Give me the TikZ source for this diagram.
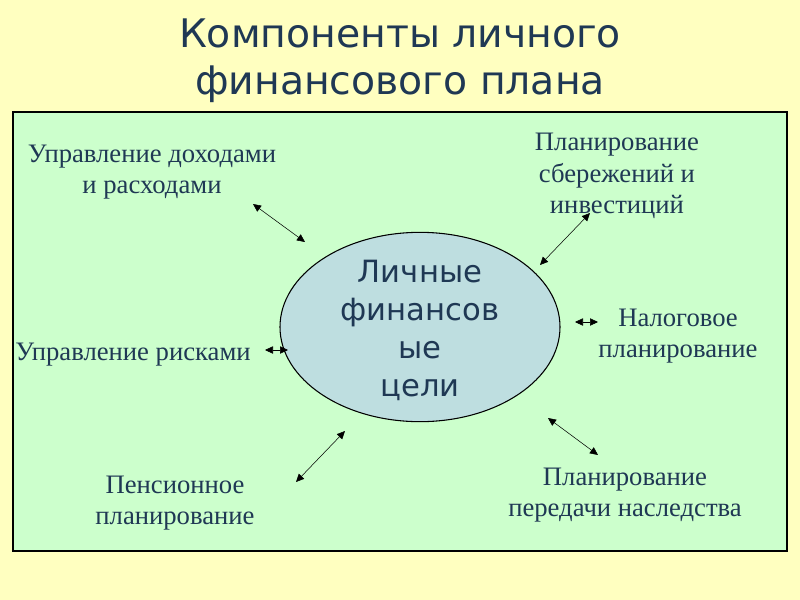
\documentclass[tikz,border=0pt]{standalone}
\usepackage{fontspec}
\setmainfont{Liberation Serif}
\newfontfamily\headfont{DejaVu Sans}
\usetikzlibrary{arrows.meta,positioning,shapes.geometric}
\definecolor{pYellow}{RGB}{255,255,192}
\definecolor{pGreen}{RGB}{204,255,204}
\definecolor{pBlue}{RGB}{190,222,224}
\definecolor{pText}{RGB}{31,56,84}
\tikzset{
    lbl/.style={align=center, text=pText, font=\fontsize{20}{23.5}\selectfont},
    link/.style={{Triangle[length=6pt,width=5.5pt]}-{Triangle[length=6pt,width=5.5pt]}, thin, black}
}

\begin{document}
\begin{tikzpicture}[x=0.75pt,y=-0.75pt]
\fill[pYellow] (0,0) rectangle (800,600);
\useasboundingbox (0,0) rectangle (800,600);
\node[align=center, text=pText, font=\headfont\fontsize{29.5}{35}\selectfont] (title) at (400,61)
    {Компоненты личного\\финансового плана};
\draw[fill=pGreen, line width=1.1pt] (13,112) rectangle (787,551);
\node[ellipse, draw, fill=pBlue, minimum width=210pt, minimum height=142pt, inner sep=0pt,
      line width=0.8pt] (goal) at (420,327) {};
\node[align=center, text=pText, font=\headfont\fontsize{23}{28.5}\selectfont] (goaltxt) at (420,330)
    {Личные\\финансов\\ые\\цели};
\node[lbl] (income)  at (152,172) {Управление доходами\\и расходами};
\node[lbl] (savings) at (617,176) {Планирование\\сбережений и\\инвестиций};
\node[lbl] (risk)    at (133,355) {Управление рисками};
\node[lbl] (tax)     at (678,336) {Налоговое\\планирование};
\node[lbl] (pension) at (175,503) {Пенсионное\\планирование};
\node[lbl] (legacy)  at (625,495) {Планирование\\передачи наследства};
\coordinate (a1) at (253,204); \coordinate (b1) at (305,242);
\coordinate (a2) at (590,213); \coordinate (b2) at (540,265);
\coordinate (a3) at (265,350); \coordinate (b3) at (288,350);
\coordinate (a4) at (598,322); \coordinate (b4) at (575,322);
\coordinate (a5) at (296,482); \coordinate (b5) at (345,431);
\coordinate (a6) at (598,455); \coordinate (b6) at (548,418);
\draw[link] (a1) -- (b1);
\draw[link] (a2) -- (b2);
\draw[link] (a3) -- (b3);
\draw[link] (a4) -- (b4);
\draw[link] (a5) -- (b5);
\draw[link] (a6) -- (b6);
\end{tikzpicture}
\end{document}
